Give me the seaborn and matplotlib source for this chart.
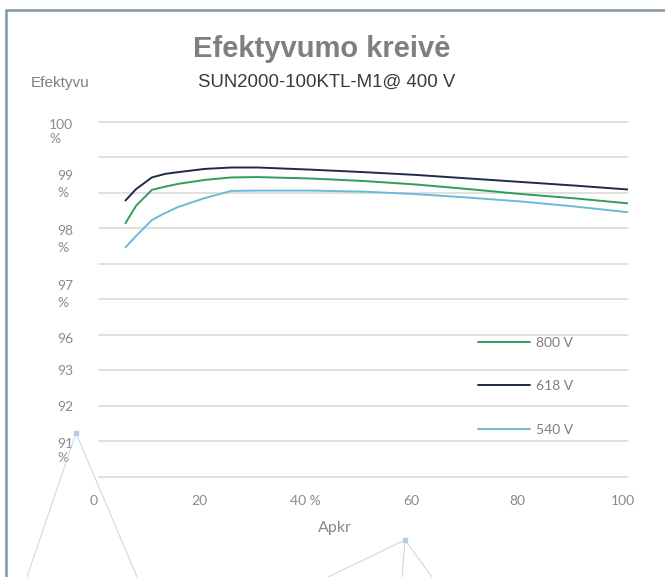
import numpy as np
import pandas as pd
import matplotlib
matplotlib.use("Agg")
import matplotlib.pyplot as plt
import matplotlib.transforms as mtransforms
from matplotlib.lines import Line2D
import seaborn as sns

# Duomenys nuskaityti nuo paveikslo (apkrova %, efektyvumas %)
apkrova = [5, 7, 10, 12.5, 15, 20, 25, 30, 40, 50, 60, 70, 80, 90, 100]
eff_800 = [97.14, 97.63, 98.08, 98.17, 98.25, 98.36, 98.43, 98.44, 98.40, 98.33, 98.23, 98.10, 97.96, 97.84, 97.70]
eff_618 = [97.78, 98.10, 98.43, 98.53, 98.58, 98.67, 98.71, 98.71, 98.65, 98.58, 98.50, 98.40, 98.30, 98.20, 98.09]
eff_540 = [96.46, 96.78, 97.23, 97.43, 97.60, 97.85, 98.05, 98.06, 98.06, 98.03, 97.96, 97.86, 97.75, 97.61, 97.45]
serijos = ["800 V", "618 V", "540 V"]

x_reiksmes = [0, 20, 40, 60, 80, 100]
x_zymes = ["0", "20", "40 %", "60", "80", "100"]
y_zymes = ["100\n%", "99\n%", "98\n%", "97\n%", "96", "93", "92", "91\n%"]

# kur stovi y zymes (tokios iskreiptos kaip originale)
y_zymiu_vietos = [99.71, 98.22, 96.68, 95.13, 93.88, 92.98, 91.96, 90.72]
spalvos = {"800 V": "#2f9e5c", "618 V": "#1d2a4c", "540 V": "#6bbad8"}
pilka = "#8a8a8a"

df = pd.DataFrame({
    "Apkrova": apkrova * 3,
    "Efektyvumas": eff_800 + eff_618 + eff_540,
    "Serija": [s for s in serijos for _ in apkrova],
})

sns.set_theme(style="white")
plt.rcParams["font.family"] = ["Lato", "DejaVu Sans"]

W, H = 665, 577
fig = plt.figure(figsize=(W / 100, H / 100), dpi=100)
ax = fig.add_axes([99 / W, 1 - 476.7 / H, 529 / W, 355 / H])

# tinklelio linijos
for v in range(90, 101):
    ax.axhline(v, color="#d9d9d9", lw=1.1, zorder=0, clip_on=False)

sns.lineplot(data=df, x="Apkrova", y="Efektyvumas", hue="Serija", hue_order=serijos,
             palette=spalvos, linewidth=1.4, legend=False, ax=ax)

ax.set_xlim(0, 100)
ax.set_ylim(90, 100)
ax.set_xlabel("")
ax.set_ylabel("")
sns.despine(ax=ax, left=True, bottom=True)

ax.set_xticks(x_reiksmes, labels=x_zymes)
ax.set_yticks([])
ax.tick_params(axis="x", length=0, pad=13, labelsize=10, labelcolor=pilka)
poslinkis = mtransforms.ScaledTranslation(-0.05, 0, fig.dpi_scale_trans)
for lab in ax.get_xticklabels():
    lab.set_transform(lab.get_transform() + poslinkis)

for txt, yv in zip(y_zymes, y_zymiu_vietos):
    tarpas = 1.15 if txt.startswith(("100", "91")) else 1.5
    ax.text(-0.049, yv, txt, transform=ax.get_yaxis_transform(), ha="right", va="center",
            multialignment="left", fontsize=10, color=pilka, linespacing=tarpas)

# legenda
rankenos = ax.get_lines()[-3:]
ax.legend(rankenos, serijos, loc="upper left", bbox_to_anchor=(478 / W, 1 - 337 / H),
          bbox_transform=fig.transFigure, frameon=False, fontsize=10,
          handlelength=3.74, handletextpad=0.43, labelspacing=2.25,
          borderpad=0, borderaxespad=0, labelcolor="#7f7f7f")

# antrastes
fig.text(321.5 / W, 1 - 56.7 / H, "Efektyvumo kreivė", ha="center", va="baseline",
         fontsize=21, fontweight="bold", color="#7f7f7f", family="Liberation Sans")
fig.text(327 / W, 1 - 86.7 / H, "SUN2000-100KTL-M1@ 400 V", ha="center", va="baseline",
         fontsize=13.4, color="#3a3a3a", family="Liberation Sans")
fig.text(30.7 / W, 1 - 86.7 / H, "Efektyvu", ha="left", va="baseline",
         fontsize=11, color="#7f7f7f", family="Liberation Sans")
fig.text(335 / W, 1 - 528 / H, "Apkr", ha="center", va="center", fontsize=11.5, color=pilka)

# remelis (virsus ir kaire)
fig.add_artist(Line2D([6 / W, 1], [1 - 10 / H, 1 - 10 / H], color="#8196a4", lw=1.8))
fig.add_artist(Line2D([6 / W, 6 / W], [0, 1 - 10 / H], color="#8196a4", lw=1.8))

# plonos "rodykles" apacioje
for x0, y0, galai in [(76, 433, [27, 137]), (405, 540, [328, 402, 432])]:
    for x1 in galai:
        fig.add_artist(Line2D([x0 / W, x1 / W], [1 - y0 / H, 0], color="#c9d4de", lw=0.7))
    fig.add_artist(Line2D([x0 / W], [1 - y0 / H], marker="s", markersize=2.5,
                          color="#b9cde0", lw=0))

fig.savefig("out.png", dpi=100)
